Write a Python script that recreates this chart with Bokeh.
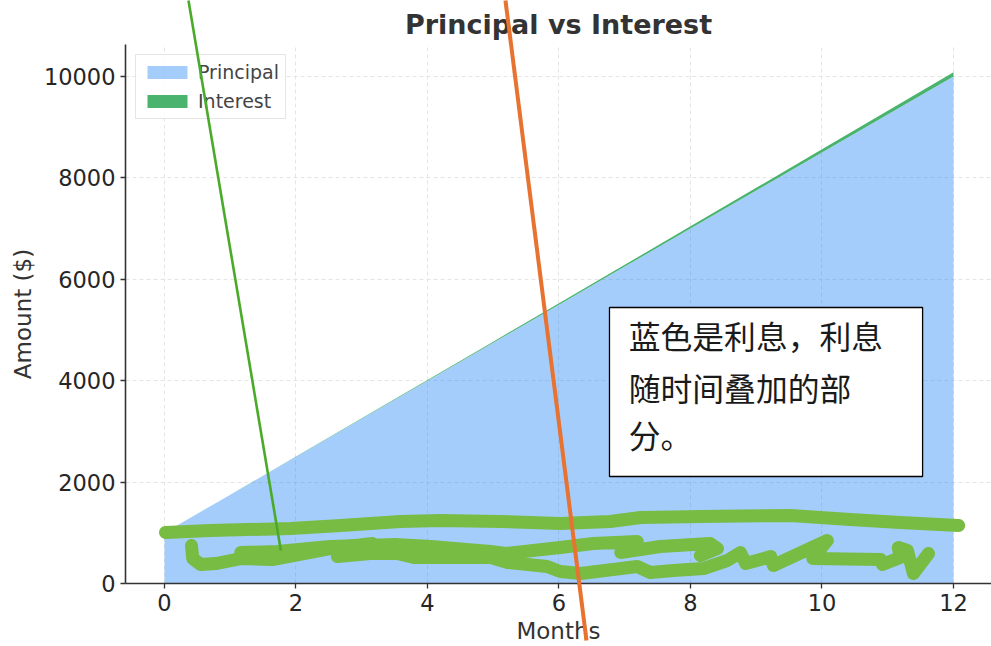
from bokeh.plotting import figure
from bokeh.layouts import column
from bokeh.models import Range1d, FixedTicker, Legend, LegendItem
from bokeh.core.properties import value
from bokeh.embed import file_html
from bokeh.resources import INLINE

months = [0, 1, 2, 3, 4, 5, 6, 7, 8, 9, 10, 11, 12]
principal = [1000, 1750, 2500, 3250, 4000, 4750, 5500, 6250, 7000, 7750, 8500, 9250, 10000]
interest = [0, 2, 5, 9, 14, 20, 28, 36, 45, 55, 65, 75, 85]
x_ticks = [0, 2, 4, 6, 8, 10, 12]
y_ticks = [0, 2000, 4000, 6000, 8000, 10000]
title_text = "Principal vs Interest"
x_label = "Months"
y_label = "Amount ($)"
note_lines = ["蓝色是利息，利息", "随时间叠加的部", "分。"]
note_x = [7.06, 7.06, 7.06]
note_y = [4910, 3885, 2940]
box_left, box_right, box_top, box_bottom = 6.768, 11.53, 5444, 2110

scribble_top_x = [0.015, 0.70, 1.92, 2.68, 3.59, 4.20, 5.11, 6.02, 6.78, 7.24, 8.15, 9.52, 10.43, 11.19, 12.08]
scribble_top_y = [1006, 1045, 1085, 1144, 1223, 1243, 1223, 1183, 1223, 1302, 1321, 1341, 1262, 1203, 1144]
scribble_a_x = [0.41, 0.43, 0.55, 0.78, 1.16, 1.64, 2.52, 3.16]
scribble_a_y = [749, 493, 375, 394, 493, 473, 690, 789]
scribble_b_x = [1.16, 1.72, 2.52, 3.51, 4.05, 4.96, 5.19, 6.02, 6.52, 7.19, 6.94, 7.54, 8.30, 8.41, 8.15]
scribble_b_y = [611, 631, 730, 769, 730, 631, 592, 710, 789, 828, 611, 730, 789, 690, 552]
scribble_c_x = [2.63, 3.13, 3.54, 3.79, 4.96, 5.22, 5.82, 6.02, 6.33, 7.19, 7.39, 7.74, 8.20, 8.56, 8.76, 8.84, 9.22, 9.26, 10.08, 9.86, 10.89, 10.92, 11.19, 11.16, 11.30, 11.39, 11.62]
scribble_c_y = [532, 592, 592, 513, 513, 414, 335, 237, 197, 335, 217, 256, 296, 454, 611, 394, 532, 355, 848, 493, 473, 375, 513, 710, 651, 197, 592]

green_pen_x = [0.365, 1.77]
green_pen_y = [11499, 650]
orange_pen_x = [5.186, 6.418]
orange_pen_y = [11499, -1124]

p = figure(frame_width=866, frame_height=539, output_backend="svg", toolbar_location=None,
           x_range=Range1d(-0.593, 12.578), y_range=Range1d(0, 10631),
           min_border_left=125, min_border_right=0, min_border_top=44, min_border_bottom=55,
           outline_line_color=None, title=title_text)

p.title.text_font = "DejaVu Sans"
p.title.text_font_size = "27px"
p.title.text_font_style = "bold"
p.title.text_color = "#333333"
p.title.align = "center"
p.title.offset = 10
p.title.standoff = 9

for ax, label, ticks in ((p.xaxis[0], x_label, x_ticks), (p.yaxis[0], y_label, y_ticks)):
    ax.axis_label = label
    ax.ticker = FixedTicker(ticks=ticks)
    ax.axis_label_text_font = "DejaVu Sans"
    ax.axis_label_text_font_size = "23px"
    ax.axis_label_text_font_style = "normal"
    ax.axis_label_text_color = "#333333"
    ax.major_label_text_font = "DejaVu Sans"
    ax.major_label_text_font_size = "22.5px"
    ax.major_label_text_color = "#262626"
    ax.axis_line_color = "#333333"
    ax.axis_line_width = 1.6
    ax.major_tick_line_color = "#333333"
    ax.major_tick_line_width = 1.3
    ax.major_tick_in = 0
    ax.major_tick_out = 5
    ax.minor_tick_line_color = None
p.yaxis[0].major_label_orientation = "horizontal"
p.xaxis[0].major_label_standoff = 5
p.yaxis[0].major_label_standoff = 5
p.xaxis[0].axis_label_standoff = 4
p.yaxis[0].axis_label_standoff = 5

for g in (p.xgrid[0], p.ygrid[0]):
    g.grid_line_color = "#e4e4e4"
    g.grid_line_dash = "4 3"
    g.grid_line_width = 1

tops = [a + b for a, b in zip(principal, interest)]
zeros = [0] * len(months)
r_principal = p.varea(months, zeros, principal, fill_color="#1e82f5", fill_alpha=0.4)
r_interest = p.varea(months, principal, tops, fill_color="#4ab46e")

legend = Legend(items=[LegendItem(label="Principal", renderers=[r_principal]),
                       LegendItem(label="Interest", renderers=[r_interest])],
                location="top_left", margin=10, padding=6, spacing=7,
                glyph_width=50, glyph_height=16, label_standoff=6,
                label_text_font="DejaVu Sans", label_text_font_size="19px",
                label_text_color="#444444", label_height=14,
                border_line_color="#cccccc", border_line_width=1.5, background_fill_alpha=0.8)
p.add_layout(legend)

p.quad(left=[box_left], right=[box_right], top=[box_top], bottom=[box_bottom],
       fill_color="white", line_color="black", line_width=1.3)
p.text(note_x, note_y, text=note_lines, text_font=value("Noto Sans CJK SC"),
       text_font_size="31.8px", text_baseline="middle", text_align="left", text_color="#1a1a1a")

for sx, sy in ((scribble_top_x, scribble_top_y), (scribble_a_x, scribble_a_y),
               (scribble_b_x, scribble_b_y), (scribble_c_x, scribble_c_y)):
    p.line(sx, sy, line_color="#78bc43", line_width=13, line_cap="round", line_join="round")

# Transparent overlay sharing the main chart's scale, so the pen strokes can cross the axes.
overlay = figure(width=991, height=650, output_backend="svg", toolbar_location=None,
                 x_range=Range1d(-0.593, 12.578), y_range=Range1d(-1283, 11538),
                 min_border=0, outline_line_color=None, x_axis_location=None, y_axis_location=None,
                 background_fill_alpha=0, border_fill_alpha=0, margin=(-648, 0, 0, 0))
overlay.grid.visible = False
overlay.line(green_pen_x, green_pen_y, line_color="#4aaa2a", line_width=2.6)
overlay.line(orange_pen_x, orange_pen_y, line_color="#e8722f", line_width=4)

open("out.html", "w").write(file_html(column(p, overlay), INLINE))
